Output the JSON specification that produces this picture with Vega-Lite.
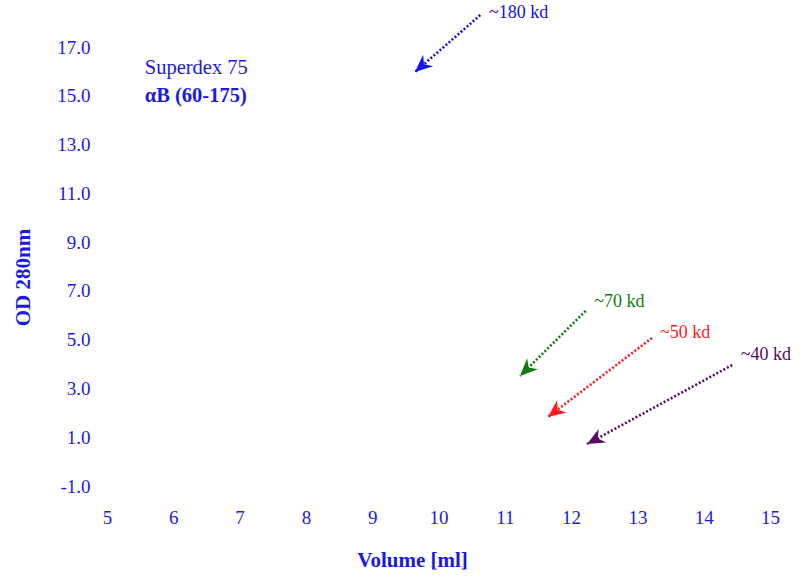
{
  "$schema": "https://vega.github.io/schema/vega-lite/v6.json",
  "width": 663,
  "height": 439,
  "autosize": {"type": "none"},
  "padding": {"left": 107, "top": 47, "right": 30, "bottom": 102},
  "config": {
    "view": {"stroke": null},
    "font": "Liberation Serif"
  },
  "datasets": {
    "arrows": [
      {"label": "~180 kd", "x1": 10.63, "y1": 18.31, "x2": 9.645, "y2": 15.97, "color": "#1010f0", "angle": 228.8, "tx": 10.76, "ty": 18.39},
      {"label": "~70 kd", "x1": 12.22, "y1": 6.18, "x2": 11.23, "y2": 3.51, "color": "#117a11", "angle": 225.4, "tx": 12.35, "ty": 6.55},
      {"label": "~50 kd", "x1": 13.22, "y1": 5.07, "x2": 11.65, "y2": 1.83, "color": "#ff1a1a", "angle": 232.8, "tx": 13.34, "ty": 5.27},
      {"label": "~40 kd", "x1": 14.43, "y1": 3.96, "x2": 12.24, "y2": 0.72, "color": "#5a0a5e", "angle": 241.4, "tx": 14.56, "ty": 4.37}
    ],
    "notes": [
      {"text": "Superdex 75", "x": 5.57, "y": 16.14},
      {"text": "αB (60-175)", "x": 5.57, "y": 14.99}
    ]
  },
  "layer": [
    {
      "data": {"name": "arrows"},
      "mark": {"type": "rule", "strokeWidth": 2.6, "strokeDash": [2, 2]},
      "encoding": {
        "x": {
          "field": "x1", "type": "quantitative",
          "scale": {"domain": [5, 15], "nice": false, "zero": false},
          "axis": {
            "title": "Volume [ml]", "values": [5, 6, 7, 8, 9, 10, 11, 12, 13, 14, 15], "format": "d",
            "domain": false, "ticks": false, "grid": false,
            "labelFont": "Liberation Serif", "labelFontSize": 19, "labelColor": "#1a1ae6",
            "labelPadding": 22, "labelFlush": false,
            "titleFont": "Liberation Serif", "titleFontSize": 21, "titleFontWeight": "bold", "titleColor": "#1a1ae6",
            "titleX": 305, "titleY": 74, "titleBaseline": "middle", "titleAlign": "center"
          }
        },
        "y": {
          "field": "y1", "type": "quantitative",
          "scale": {"domain": [-1, 17], "nice": false, "zero": false},
          "axis": {
            "title": "OD 280nm", "values": [-1, 1, 3, 5, 7, 9, 11, 13, 15, 17],
            "labelExpr": "replace(format(datum.value, '.1f'), '\u2212', '-')",
            "domain": false, "ticks": false, "grid": false,
            "labelFont": "Liberation Serif", "labelFontSize": 19, "labelColor": "#1a1ae6",
            "labelPadding": 17, "labelFlush": false,
            "titleFont": "Liberation Serif", "titleFontSize": 21, "titleFontWeight": "bold", "titleColor": "#1a1ae6",
            "titleX": -84, "titleY": 230, "titleAngle": -90, "titleBaseline": "middle", "titleAlign": "center"
          }
        },
        "x2": {"field": "x2"},
        "y2": {"field": "y2"},
        "color": {"field": "color", "type": "nominal", "scale": null}
      }
    },
    {
      "data": {"name": "arrows"},
      "mark": {"type": "point", "filled": true, "opacity": 1, "shape": "M0,0L0.7,1.6L0,1.1L-0.7,1.6Z", "size": 480},
      "encoding": {
        "x": {"field": "x2", "type": "quantitative"},
        "y": {"field": "y2", "type": "quantitative"},
        "angle": {"field": "angle", "type": "quantitative", "scale": null},
        "color": {"field": "color", "type": "nominal", "scale": null}
      }
    },
    {
      "data": {"name": "arrows"},
      "mark": {"type": "text", "align": "left", "baseline": "middle", "font": "Liberation Serif", "fontSize": 18},
      "encoding": {
        "x": {"field": "tx", "type": "quantitative"},
        "y": {"field": "ty", "type": "quantitative"},
        "text": {"field": "label"},
        "color": {"field": "color", "type": "nominal", "scale": null}
      }
    },
    {
      "data": {"name": "notes"},
      "transform": [{"filter": "datum.text == 'Superdex 75'"}],
      "mark": {"type": "text", "align": "left", "baseline": "middle", "font": "Liberation Serif", "fontSize": 20.5, "color": "#1a1ae6"},
      "encoding": {
        "x": {"field": "x", "type": "quantitative"},
        "y": {"field": "y", "type": "quantitative"},
        "text": {"field": "text"}
      }
    },
    {
      "data": {"name": "notes"},
      "transform": [{"filter": "datum.text != 'Superdex 75'"}],
      "mark": {"type": "text", "align": "left", "baseline": "middle", "font": "Liberation Serif", "fontSize": 20.5, "fontWeight": "bold", "color": "#1a1ae6"},
      "encoding": {
        "x": {"field": "x", "type": "quantitative"},
        "y": {"field": "y", "type": "quantitative"},
        "text": {"field": "text"}
      }
    }
  ]
}
